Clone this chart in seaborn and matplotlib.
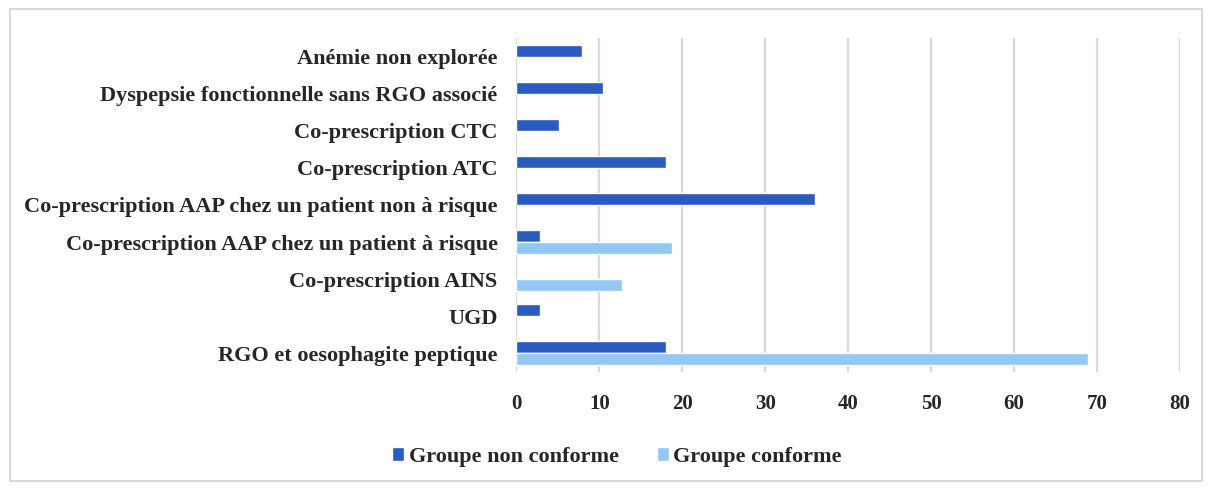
import matplotlib

matplotlib.use("Agg")

import matplotlib.pyplot as plt
import pandas as pd
import seaborn as sns
from matplotlib.patches import Rectangle

categories = [
    "Anémie non explorée",
    "Dyspepsie fonctionnelle sans RGO associé",
    "Co-prescription CTC",
    "Co-prescription ATC",
    "Co-prescription AAP chez un patient non à risque",
    "Co-prescription AAP chez un patient à risque",
    "Co-prescription AINS",
    "UGD",
    "RGO et oesophagite peptique",
]
non_conforme = [7.9, 10.5, 5.2, 18.1, 36.0, 2.8, None, 2.8, 18.1]
conforme = [None, None, None, None, None, 18.8, 12.7, None, 68.9]
series = ["Groupe non conforme", "Groupe conforme"]
xticks = [0, 10, 20, 30, 40, 50, 60, 70, 80]

df = pd.DataFrame({
    "categorie": categories * 2,
    "valeur": non_conforme + conforme,
    "groupe": [series[0]] * len(categories) + [series[1]] * len(categories),
})

sns.set_style("white")
plt.rcParams["font.family"] = ["Liberation Serif", "DejaVu Serif"]

fig = plt.figure(figsize=(12.12, 4.88), dpi=100)
ax = fig.add_axes([0.426, 0.238, 0.5476, 0.684])

sns.barplot(
    data=df, x="valeur", y="categorie", hue="groupe", order=categories,
    hue_order=series, palette=["#2A5BBF", "#93C8F4"], saturation=1,
    width=0.64, orient="h", ax=ax, legend=True,
)

ax.set_xlim(0, 80)
ax.set_xticks(xticks)
ax.set_xticklabels([str(t) for t in xticks], fontsize=15, fontweight="bold")
ax.set_yticklabels(categories, fontsize=16, fontweight="bold")
ax.tick_params(axis="x", length=0, pad=16)
ax.tick_params(axis="y", length=0, pad=13.5)
ax.set_xlabel("")
ax.set_ylabel("")
ax.grid(axis="x", color="#d9d9d9", linewidth=1.6)
ax.set_axisbelow(True)
for s in ax.spines.values():
    s.set_visible(False)

handles, labels = ax.get_legend_handles_labels()
ax.get_legend().remove()
fig.legend(
    handles, labels, loc="center", bbox_to_anchor=(0.509, 0.064), ncol=2,
    frameon=False, prop={"size": 16, "weight": "bold"},
    handlelength=0.55, handleheight=0.55, handletextpad=0.2, columnspacing=1.7,
)

fig.patches.append(Rectangle((0.008, 0.014), 0.984, 0.968, transform=fig.transFigure,
                             fill=False, edgecolor="#d9d9d9", linewidth=1.5))

fig.savefig("out.png", dpi=100)
